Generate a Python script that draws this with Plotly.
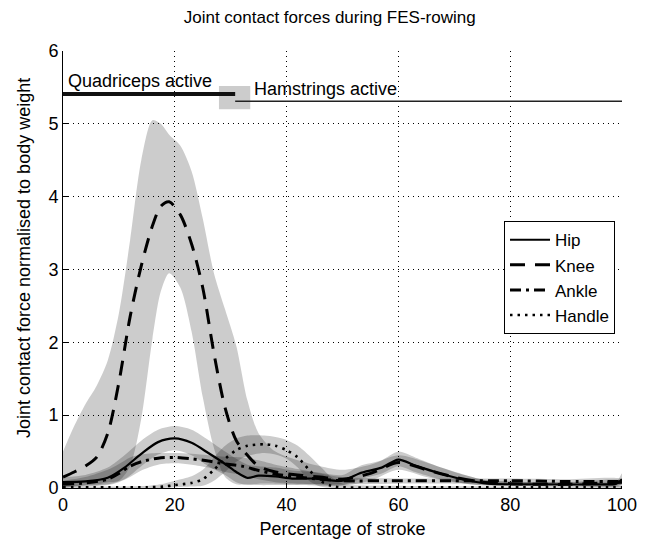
import plotly.graph_objects as go

# ---------------- data ----------------
hip_x = [0, 4, 8, 11, 14, 17, 20, 23, 26, 29, 31, 33, 35, 38, 41, 45, 50, 53, 57, 60, 63, 67, 72, 76, 85, 95, 99, 100]
hip_mean = [.08, .09, .14, .28, .47, .63, .68, .62, .48, .33, .22, .14, .17, .16, .13, .13, .10, .20, .28, .39, .31, .21, .11, .06, .05, .05, .06, .12]
hip_hi = [.15, .18, .28, .45, .65, .80, .85, .80, .66, .50, .40, .32, .30, .28, .24, .22, .18, .30, .38, .50, .42, .30, .18, .10, .08, .08, .09, .20]
hip_lo = [.02, .03, .05, .12, .30, .46, .52, .45, .30, .18, .08, .04, .06, .06, .05, .05, .04, .12, .20, .30, .22, .13, .06, .03, .03, .03, .03, .06]

knee_x = [0, 2, 4, 6, 8, 10, 12, 14, 16, 17.5, 19, 21, 23, 25, 27, 29, 31, 33, 35, 38, 42, 46, 50, 55, 60, 65, 70, 75, 80, 90, 100]
knee_mean = [.15, .22, .30, .42, .75, 1.45, 2.35, 3.05, 3.60, 3.87, 3.93, 3.75, 3.35, 2.75, 1.85, 1.10, .65, .45, .30, .22, .18, .15, .12, .20, .35, .25, .15, .08, .06, .05, .08]
knee_hi = [.50, .85, 1.15, 1.40, 1.75, 2.40, 3.40, 4.50, 5.05, 5.00, 4.85, 4.70, 4.35, 3.70, 2.95, 2.45, 1.95, 1.20, .75, .50, .38, .30, .25, .32, .45, .35, .22, .12, .09, .08, .10]
knee_lo = [0, .02, .04, .05, .08, .10, .30, .95, 2.05, 2.70, 2.95, 2.75, 2.15, 1.25, .55, .15, .05, .05, .04, .04, .04, .03, .03, .10, .25, .15, .08, .04, .03, .03, .03]

ankle_x = [0, 4, 8, 10, 12, 14, 17, 20, 23, 26, 29, 32, 35, 38, 42, 46, 50, 60, 70, 80, 90, 100]
ankle_mean = [.05, .07, .12, .20, .30, .36, .41, .42, .40, .37, .33, .30, .24, .19, .15, .12, .10, .10, .10, .10, .09, .09]
ankle_hi = [.10, .15, .25, .33, .42, .46, .48, .48, .47, .45, .43, .42, .38, .32, .26, .20, .15, .13, .13, .13, .12, .12]
ankle_lo = [.01, .02, .04, .08, .15, .24, .32, .34, .32, .28, .22, .18, .12, .08, .06, .05, .05, .06, .06, .06, .05, .05]

handle_x = [0, 10, 15, 18, 20, 23, 25, 27, 29, 31, 33, 36, 38, 40, 42, 44, 46, 48, 50, 60, 80, 100]
handle_mean = [.01, .01, .01, .02, .04, .07, .12, .25, .40, .52, .58, .60, .58, .52, .42, .25, .10, .03, .01, .01, .01, .01]
handle_hi = [.02, .02, .03, .06, .10, .16, .25, .42, .58, .68, .72, .72, .70, .66, .58, .45, .30, .15, .06, .03, .02, .02]
handle_lo = [0, 0, 0, 0, .01, .02, .03, .10, .22, .36, .44, .48, .46, .40, .28, .10, .02, 0, 0, 0, 0, 0]

# muscle activation periods (percentage of stroke) and their display level
quad_x = [0, 30.8]
quad_level = 5.41
ham_x = [30.8, 100]
ham_level = 5.31
switch_x = [27.9, 33.5]
switch_y = [5.20, 5.52]

x_ticks = [0, 20, 40, 60, 80, 100]
y_ticks = [0, 1, 2, 3, 4, 5, 6]

FONT = "Liberation Sans, Arial, sans-serif"
BAND = "rgba(0,0,0,0.2)"

fig = go.Figure()


def band(x, lo, hi):
    fig.add_trace(go.Scatter(
        x=list(x) + list(x)[::-1],
        y=list(hi) + list(lo)[::-1],
        fill="toself", fillcolor=BAND, mode="lines",
        line=dict(width=0, shape="spline", smoothing=0.8),
        hoverinfo="skip", showlegend=False))


band(knee_x, knee_lo, knee_hi)
band(hip_x, hip_lo, hip_hi)
band(ankle_x, ankle_lo, ankle_hi)
band(handle_x, handle_lo, handle_hi)

# muscle activity indicators
fig.add_trace(go.Scatter(
    x=[switch_x[0], switch_x[1], switch_x[1], switch_x[0], switch_x[0]],
    y=[switch_y[0], switch_y[0], switch_y[1], switch_y[1], switch_y[0]],
    fill="toself", fillcolor="rgba(0,0,0,0.2)", mode="lines",
    line=dict(width=0), hoverinfo="skip", showlegend=False))
fig.add_trace(go.Scatter(x=quad_x, y=[quad_level] * 2, mode="lines",
                         line=dict(color="#111", width=4), showlegend=False))
fig.add_trace(go.Scatter(x=ham_x, y=[ham_level] * 2, mode="lines",
                         line=dict(color="#222", width=1.6), showlegend=False))

# mean curves
fig.add_trace(go.Scatter(x=hip_x, y=hip_mean, mode="lines", name="Hip",
                         line=dict(color="black", width=2.2, shape="spline", smoothing=0.8)))
fig.add_trace(go.Scatter(x=knee_x, y=knee_mean, mode="lines", name="Knee",
                         line=dict(color="black", width=3, dash="15px,10px", shape="spline", smoothing=0.8)))
fig.add_trace(go.Scatter(x=ankle_x, y=ankle_mean, mode="lines", name="Ankle",
                         line=dict(color="black", width=3, dash="11px,5px,3px,5px", shape="spline", smoothing=0.8)))
fig.add_trace(go.Scatter(x=handle_x, y=handle_mean, mode="lines", name="Handle",
                         line=dict(color="black", width=2.6, dash="2.5px,5px", shape="spline", smoothing=0.8)))

fig.add_annotation(x=0.5, y=quad_level, xref="x", yref="y", text="Quadriceps active",
                   showarrow=False, xanchor="left", yanchor="bottom", yshift=1,
                   font=dict(family=FONT, size=18, color="black"))
fig.add_annotation(x=ham_x[0] + 3, y=ham_level, xref="x", yref="y", text="Hamstrings active",
                   showarrow=False, xanchor="left", yanchor="bottom", yshift=0,
                   font=dict(family=FONT, size=18, color="black"))

# y axis title as rotated annotation
fig.add_annotation(x=-0.07, y=0.526, xref="paper", yref="paper",
                   text="Joint contact force normalised to body weight",
                   textangle=-90, showarrow=False, xanchor="center", yanchor="middle",
                   font=dict(family=FONT, size=18, color="black"))

axis_common = dict(
    showline=True, linecolor="black", linewidth=1,
    ticks="inside", ticklen=5, tickcolor="black", tickwidth=1,
    showgrid=True, gridcolor="black", gridwidth=1, griddash="1px,4px",
    zeroline=False, mirror=False,
    tickfont=dict(family=FONT, size=18, color="black"),
)

fig.update_layout(
    width=649, height=547,
    margin=dict(l=63, r=27, t=51, b=57),
    paper_bgcolor="white", plot_bgcolor="white",
    title=dict(text="Joint contact forces during FES-rowing", x=0.508, xref="container",
               y=1 - 17 / 547, yref="container", xanchor="center", yanchor="middle",
               font=dict(family=FONT, size=17, color="black")),
    xaxis=dict(range=[0, 100], tickvals=x_ticks,
               title=dict(text="Percentage of stroke", font=dict(family=FONT, size=18, color="black"),
                          standoff=8),
               **axis_common),
    yaxis=dict(range=[0, 6], tickvals=y_ticks, **axis_common),
    legend=dict(x=0.9875, y=0.6105, xanchor="right", yanchor="top",
                bgcolor="white", bordercolor="black", borderwidth=1,
                font=dict(family=FONT, size=17, color="black"),
                tracegroupgap=0, itemwidth=40),
    showlegend=True,
)

fig.write_html("out.html", config={"displayModeBar": False},
               post_script="document.body.style.margin='0';document.body.style.padding='0';")
